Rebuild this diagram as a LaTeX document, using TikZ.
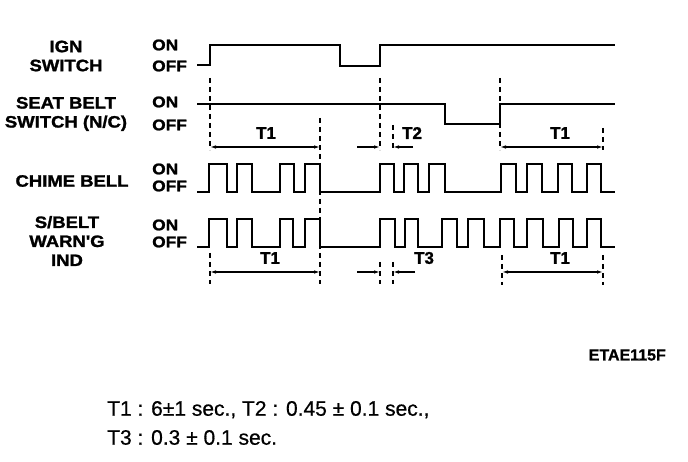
\documentclass[tikz,border=0pt]{standalone}
\usepackage{fontspec}
\setmainfont{Liberation Sans}
\newfontfamily\lblfont[FakeStretch=1.12,FakeBold=1.5]{Liberation Sans Bold}
\newfontfamily\tfont[FakeBold=1]{Liberation Sans Bold}
\newfontfamily\notefont[FakeBold=0.6]{Liberation Sans}
\usetikzlibrary{arrows.meta}
\begin{document}
\begin{tikzpicture}[x=1pt,y=1pt,
  wave/.style={line width=1.8pt, line join=miter},
  guide/.style={line width=1.1pt, dash pattern=on 5pt off 4pt},
  dim/.style={line width=1.1pt, arrows={-Latex[length=6pt,width=3.5pt]}},
  dimboth/.style={line width=1.1pt, arrows={Latex[length=6pt,width=3.5pt]-Latex[length=6pt,width=3.5pt]}},
  sig/.style={font=\lblfont\fontsize{16.5}{19}\selectfont, align=center, inner sep=0pt},
  lvl/.style={font=\lblfont\fontsize{15.5}{16}\selectfont, anchor=west, inner sep=0pt},
  tl/.style={font=\tfont\fontsize{17}{18}\selectfont, inner sep=0pt},
  note/.style={font=\notefont\fontsize{21}{29}\selectfont, anchor=west, inner sep=0pt, align=left}]
\fill[white] (0,0) rectangle (688,-462);
\useasboundingbox (0,0) rectangle (688,-462);

% signal names
\node[sig] (ign) at (66,-56) {IGN\\SWITCH};
\node[sig] (seat) at (66,-114) {SEAT BELT\\SWITCH (N/C)};
\node[sig] (chime) at (72,-181) {CHIME BELL};
\node[sig] (swarn) at (67,-241) {S/BELT\\WARN'G\\IND};

% ON / OFF levels
\node[lvl] (ignon) at (152,-45) {ON};
\node[lvl] (ignoff) at (152,-66) {OFF};
\node[lvl] (seaton) at (152,-102) {ON};
\node[lvl] (seatoff) at (152,-125) {OFF};
\node[lvl] (chon) at (152,-169) {ON};
\node[lvl] (choff) at (152,-186) {OFF};
\node[lvl] (swon) at (152,-225) {ON};
\node[lvl] (swoff) at (152,-242) {OFF};

% waveforms
\draw[wave] (197,-65) -- (210,-65) -- (210,-45) -- (340,-45) -- (340,-66)
  -- (380,-66) -- (380,-45) -- (615,-45);
\draw[wave] (197,-104) -- (445,-104) -- (445,-124) -- (500,-124) -- (500,-104) -- (615,-104);
\draw[wave] (197,-192)
  \foreach \a/\b in {209/227,237/252,280/294,305/320,380/394,404/418,429/445,501/516,527/542,558/572,587/601}
  { -- (\a,-192) -- (\a,-164) -- (\b,-164) -- (\b,-192) } -- (615,-192);
\draw[wave] (197,-247)
  \foreach \a/\b in {209/227,237/252,280/293,305/320,380/395,405/418,442/457,468/484,500/514,527/543,559/573,587/601}
  { -- (\a,-247) -- (\a,-219) -- (\b,-219) -- (\b,-247) } -- (615,-247);

% guide lines
\coordinate (g1a) at (210,-78);  \coordinate (g1b) at (210,-150);
\coordinate (g1c) at (210,-253); \coordinate (g1d) at (210,-284);
\coordinate (g2a) at (320,-118); \coordinate (g2b) at (320,-284);
\coordinate (g3a) at (380,-78);  \coordinate (g3b) at (380,-150);
\coordinate (g3c) at (380,-262); \coordinate (g3d) at (380,-284);
\coordinate (g4a) at (393,-125); \coordinate (g4b) at (393,-150);
\coordinate (g4c) at (393,-262); \coordinate (g4d) at (393,-284);
\coordinate (g5a) at (500,-78);  \coordinate (g5b) at (500,-150);
\coordinate (g5c) at (502,-255); \coordinate (g5d) at (502,-285);
\coordinate (g6a) at (603,-128); \coordinate (g6b) at (603,-150);
\coordinate (g6c) at (603,-255); \coordinate (g6d) at (603,-285);
\foreach \p in {1,3,4,5,6} {\draw[guide] (g\p a) -- (g\p b);}
\foreach \p in {1,3,4,5,6} {\draw[guide] (g\p c) -- (g\p d);}
\draw[guide] (g2a) -- (g2b);

% dimension arrows
\draw[dimboth] (210,-147) -- (320,-147);
\coordinate (t2l) at (357,-147); \coordinate (t2r) at (413,-147);
\draw[dim] (t2l) -- (380,-147);
\draw[dim] (t2r) -- (393,-147);
\draw[dimboth] (500,-147) -- (603,-147);
\draw[dimboth] (210,-272) -- (320,-272);
\coordinate (t3l) at (357,-272); \coordinate (t3r) at (415,-272);
\draw[dim] (t3l) -- (380,-272);
\draw[dim] (t3r) -- (393,-272);
\draw[dimboth] (502,-272) -- (603,-272);

% dimension labels
\node[tl] (lt1a) at (266,-133) {T1};
\node[tl] (lt2) at (412,-133) {T2};
\node[tl] (lt1b) at (560,-133) {T1};
\node[tl] (lt1c) at (270,-258) {T1};
\node[tl] (lt3) at (424,-258) {T3};
\node[tl] (lt1d) at (560,-258) {T1};

% figure code
\node[font=\tfont\fontsize{16}{17}\selectfont, anchor=east, inner sep=0pt] (code) at (666,-355) {ETAE115F};

% notes
\node[note] (notes) at (107,-423) {T1 : 6±1 sec., T2 : 0.45 ± 0.1 sec.,\\T3 : 0.3 ± 0.1 sec.};
\end{tikzpicture}
\end{document}
